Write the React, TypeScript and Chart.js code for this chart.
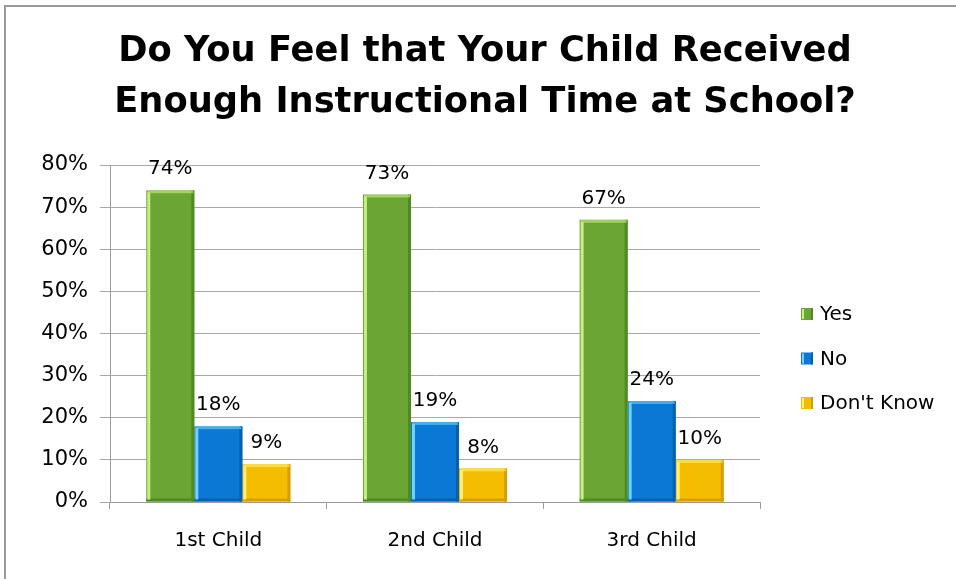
import React, { useEffect, useRef } from "react";
import { Chart, registerables } from "chart.js";

Chart.register(...registerables);

const titleLines = ["Do You Feel that Your Child Received", "Enough Instructional Time at School?"];
const categories = ["1st Child", "2nd Child", "3rd Child"];
const seriesLabels = ["Yes", "No", "Don't Know"];
const yesValues = [74, 73, 67];
const noValues = [18, 19, 24];
const dontKnowValues = [9, 8, 10];
const yMax = 80;
const yStep = 10;

const mainColors = ["#6ba534", "#0a78d4", "#f5bd00"];
const lightColors = ["#c6ee84", "#6fd2ff", "#fff07a"];
const darkColors = ["#4f8a22", "#0660ae", "#d69f00"];

const FONT = "'DejaVu Sans', sans-serif";
const TITLE_FONT = "'DejaVu Sans', sans-serif";

const titlePlugin = {
  id: "customTitle",
  afterDraw(chart: any) {
    const ctx = chart.ctx;
    ctx.save();
    // fit first line to the reference width
    let size = 38;
    ctx.font = `bold ${size}px ${TITLE_FONT}`;
    const w = ctx.measureText(titleLines[0]).width;
    size = (size * 734) / w;
    ctx.font = `bold ${size}px ${TITLE_FONT}`;
    ctx.fillStyle = "#000";
    ctx.textAlign = "center";
    ctx.textBaseline = "middle";
    titleLines.forEach((line, i) => {
      ctx.fillText(line, 485, 52 + i * 51);
    });
    ctx.restore();
  },
};

const bevelPlugin = {
  id: "bevel",
  afterDatasetsDraw(chart: any) {
    const ctx = chart.ctx;
    chart.data.datasets.forEach((ds: any, di: number) => {
      const meta = chart.getDatasetMeta(di);
      meta.data.forEach((el: any) => {
        const { x, y, base, width } = el.getProps(["x", "y", "base", "width"], true);
        const l = x - width / 2;
        const r = x + width / 2;
        const h = base - y;
        ctx.save();
        ctx.fillStyle = darkColors[di];
        ctx.fillRect(r - 3, y, 3, h);
        ctx.fillRect(l, base - 3, width, 3);
        ctx.fillStyle = lightColors[di];
        ctx.fillRect(l + 1, y + 2, 3, h - 4);
        ctx.globalAlpha = 0.6;
        ctx.fillRect(l + 1, y, width - 2, 3);
        ctx.restore();
      });
    });
  },
};

const labelPlugin = {
  id: "valueLabels",
  afterDatasetsDraw(chart: any) {
    const ctx = chart.ctx;
    ctx.save();
    ctx.font = `20px ${FONT}`;
    ctx.fillStyle = "#000";
    ctx.textAlign = "center";
    ctx.textBaseline = "bottom";
    chart.data.datasets.forEach((ds: any, di: number) => {
      const meta = chart.getDatasetMeta(di);
      meta.data.forEach((el: any, i: number) => {
        ctx.fillText(`${ds.data[i]}%`, el.x, el.y - 11);
      });
    });
    ctx.restore();
  },
};

const legendPlugin = {
  id: "sideLegend",
  afterDraw(chart: any) {
    const ctx = chart.ctx;
    const x0 = chart.chartArea.right + 41;
    ctx.save();
    ctx.font = `20px ${FONT}`;
    ctx.textBaseline = "middle";
    ctx.textAlign = "left";
    chart.data.datasets.forEach((ds: any, di: number) => {
      const cy = chart.chartArea.top + 149 + di * 44.5;
      ctx.fillStyle = mainColors[di];
      ctx.fillRect(x0, cy - 6, 12, 12);
      ctx.fillStyle = lightColors[di];
      ctx.fillRect(x0 + 1, cy - 5, 2, 10);
      ctx.fillStyle = darkColors[di];
      ctx.fillRect(x0 + 10, cy - 6, 2, 12);
      ctx.fillStyle = "#000";
      ctx.fillText(ds.label, x0 + 19, cy + 1);
    });
    ctx.restore();
  },
};

export default function App() {
  const ref = useRef<HTMLCanvasElement>(null);
  useEffect(() => {
    if (!ref.current) return;
    const values = [yesValues, noValues, dontKnowValues];
    const chart = new Chart(ref.current, {
      type: "bar",
      data: {
        labels: categories,
        datasets: seriesLabels.map((label, i) => ({
          label,
          data: values[i],
          backgroundColor: mainColors[i],
          borderWidth: 0,
          barPercentage: 1,
          categoryPercentage: 0.665,
        })),
      },
      options: {
        responsive: false,
        animation: false,
        devicePixelRatio: 1,
        layout: { padding: { left: 0, right: 196, top: 165, bottom: 0 } },
        plugins: {
          legend: { display: false },
          tooltip: { enabled: false },
          title: { display: false },
        },
        scales: {
          x: {
            afterFit: (scale: any) => {
              scale.height = 77;
            },
            grid: {
              display: true,
              drawOnChartArea: false,
              offset: true,
              tickLength: 7,
              color: "#9c9c9c",
            },
            border: { color: "#9c9c9c" },
            ticks: { color: "#000", font: { family: FONT, size: 20 }, padding: 20 },
          },
          y: {
            min: 0,
            max: yMax,
            afterFit: (scale: any) => {
              scale.width = 110;
            },
            grid: { color: "#a8a8a8", tickLength: 10 },
            border: { color: "#9c9c9c" },
            ticks: {
              stepSize: yStep,
              color: "#000",
              padding: 12,
              font: { family: FONT, size: 21 },
              callback: (v: any) => `${v}%`,
            },
          },
        },
      },
      plugins: [bevelPlugin, labelPlugin, legendPlugin, titlePlugin],
    });
    return () => chart.destroy();
  }, []);
  return (
    <div style={{ position: "fixed", left: 0, top: 0, width: 956, height: 579, background: "#fff", overflow: "hidden" }}>
      <canvas ref={ref} width={956} height={579} style={{ position: "absolute", left: 0, top: 0 }} />
      <div style={{ position: "absolute", left: 4, top: 5, width: 1200, height: 1200, border: "2px solid #9a9a9a", pointerEvents: "none" }} />
    </div>
  );
}
